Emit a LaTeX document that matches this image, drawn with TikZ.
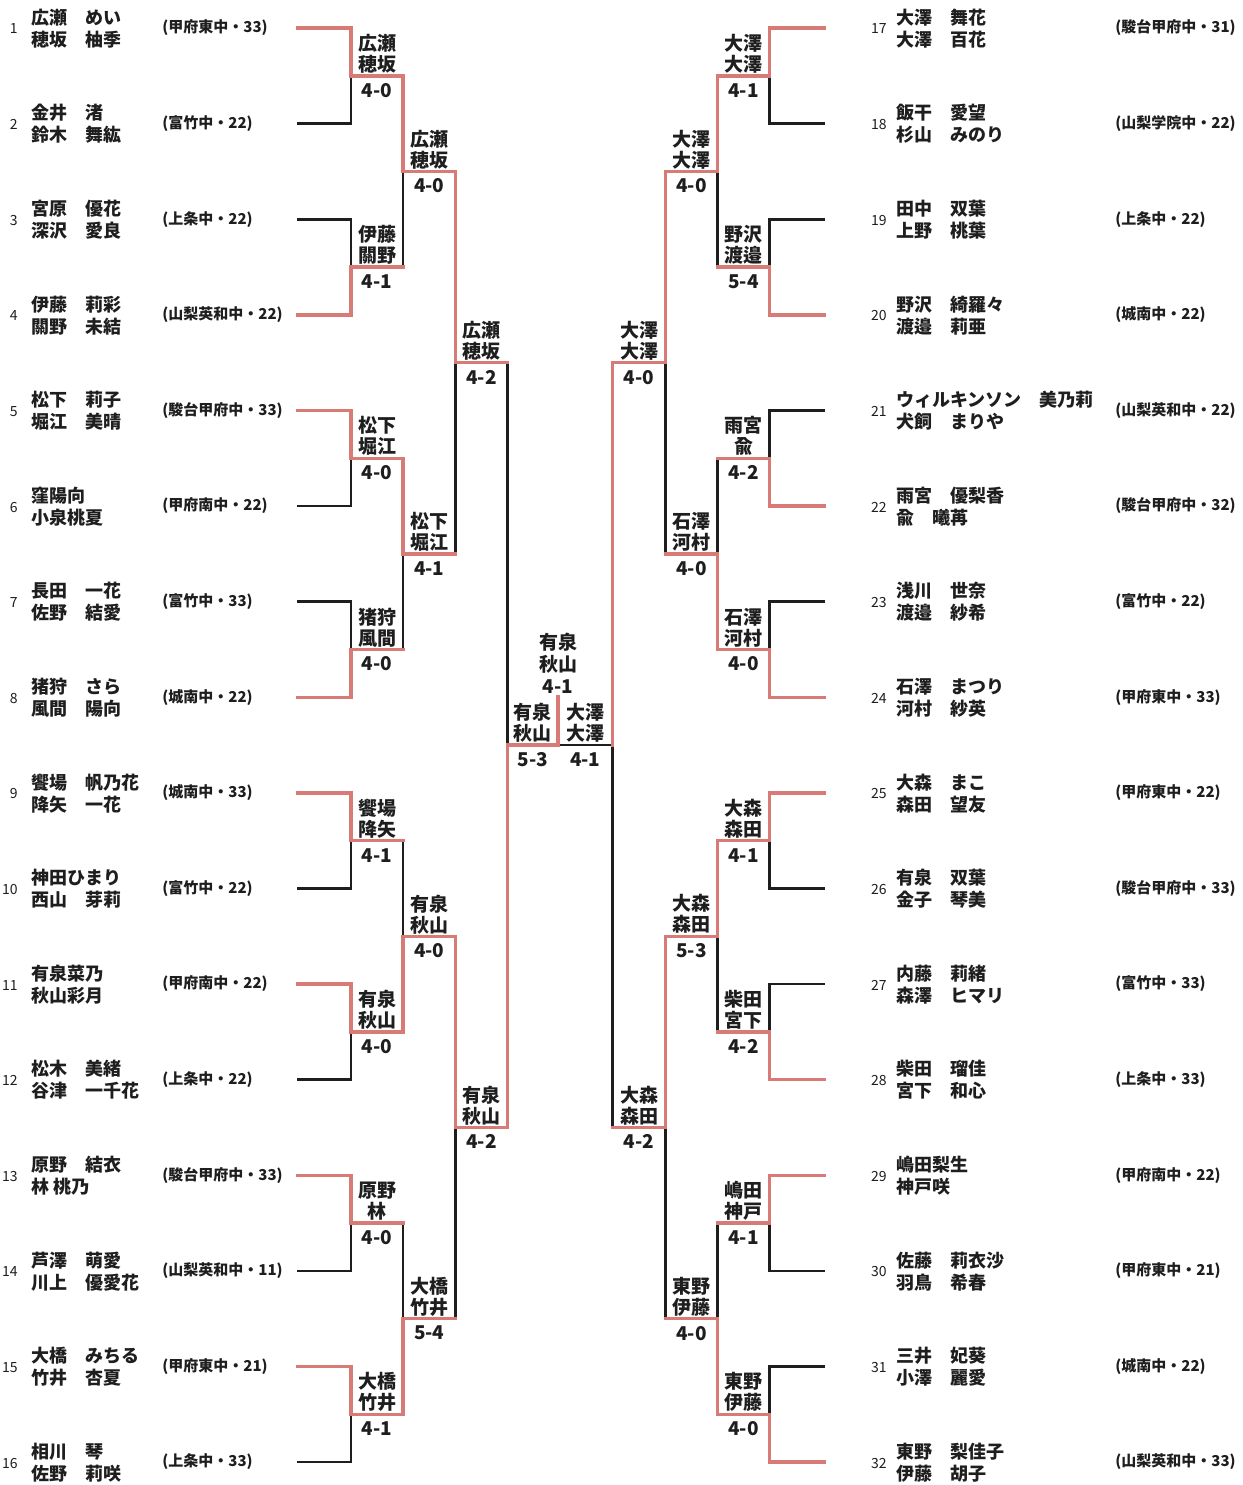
\documentclass[tikz,border=0pt]{standalone}
\usepackage{fontspec}
\setmainfont{Noto Sans CJK JP}
\definecolor{winred}{RGB}{216,122,118}
\definecolor{ink}{RGB}{30,30,30}
\pgfdeclarelayer{bg}
\pgfdeclarelayer{back}
\pgfsetlayers{bg,back,main}
\newcommand\bkseg[3]{\ifnum#1=0\relax\begin{pgfonlayer}{back}\draw[lose] (#2)--(#3);\end{pgfonlayer}\else\draw[win] (#2)--(#3);\fi}
\def\bkoutwin{1}
\newcommand\entL[5]{%
  \pgfmathsetmacro\bky{28+(#1-1)*95.6}%
  \node[num] (nL#1) at (18,\bky+1) {#1};
  \node[nm] (eL#1) at (31,\bky+0.5) {#2\\#3};
  \node[sch] (sL#1) at (162,\bky) {#4};
  \coordinate (aL#1) at (298,\bky);
  \coordinate (bL#1) at (351,\bky);
  \bkseg{#5}{aL#1}{bL#1}}
\newcommand\entR[5]{%
  \pgfmathsetmacro\bky{28+(#1-17)*95.6}%
  \node[num] (nR#1) at (887,\bky+1) {#1};
  \node[nm] (eR#1) at (896,\bky+0.5) {#2\\#3};
  \node[sch] (sR#1) at (1115,\bky) {#4};
  \coordinate (aR#1) at (824,\bky);
  \coordinate (bR#1) at (769.5,\bky);
  \bkseg{#5}{aR#1}{bR#1}}
\newcommand\bkmatch[9]{%
  \pgfmathsetmacro\bkym{(#4+#5)/2}%
  \pgfmathsetmacro\bkxm{(#2+#3)/2}%
  \pgfmathtruncatemacro\bkbw{1-#6}%
  \coordinate (#1t) at (#2,#4);
  \coordinate (#1m) at (#2,\bkym);
  \coordinate (#1b) at (#2,#5);
  \coordinate (#1o) at (#3,\bkym);
  \bkseg{#6}{#1t}{#1m}
  \bkseg{\bkbw}{#1m}{#1b}
  \bkseg{\bkoutwin}{#1m}{#1o}
  \node[lab] (#1l) at (\bkxm,\bkym-22) {#7\\#8};
  \node[score] (#1s) at (\bkxm,\bkym+14.5) {#9};}
\begin{document}
\begin{tikzpicture}[x=0.5pt,y=-0.5pt,
  win/.style={draw=winred,line width=1.7pt,line cap=rect},
  lose/.style={draw=ink,line width=1.3pt,line cap=rect},
  lab/.style={font=\fontsize{9.5}{10.5}\selectfont\bfseries,text=ink,align=center,inner sep=0pt},
  score/.style={font=\fontsize{9.5}{10.5}\selectfont\bfseries,text=ink,inner sep=0pt},
  nm/.style={font=\fontsize{9}{11}\selectfont\bfseries,text=ink,align=left,inner sep=0pt,anchor=west},
  num/.style={font=\fontsize{7}{8}\selectfont,text=ink,inner sep=0pt,anchor=east},
  sch/.style={font=\fontsize{7.5}{9}\selectfont\bfseries,text=ink,inner sep=0pt,anchor=west}]
\begin{pgfonlayer}{bg}
\fill[white] (0,0) rectangle (1243,1485);
\end{pgfonlayer}
\useasboundingbox (0,0) rectangle (1243,1485);
% left entries
\entL{1}{広瀬　めい}{穂坂　柚季}{(甲府東中・33)}{1}
\entL{2}{金井　渚}{鈴木　舞紘}{(富竹中・22)}{0}
\entL{3}{宮原　優花}{深沢　愛良}{(上条中・22)}{0}
\entL{4}{伊藤　莉彩}{關野　未結}{(山梨英和中・22)}{1}
\entL{5}{松下　莉子}{堀江　美晴}{(駿台甲府中・33)}{1}
\entL{6}{窪陽向}{小泉桃夏}{(甲府南中・22)}{0}
\entL{7}{長田　一花}{佐野　結愛}{(富竹中・33)}{0}
\entL{8}{猪狩　さら}{風間　陽向}{(城南中・22)}{1}
\entL{9}{饗場　帆乃花}{降矢　一花}{(城南中・33)}{1}
\entL{10}{神田ひまり}{西山　芽莉}{(富竹中・22)}{0}
\entL{11}{有泉菜乃}{秋山彩月}{(甲府南中・22)}{1}
\entL{12}{松木　美緒}{谷津　一千花}{(上条中・22)}{0}
\entL{13}{原野　結衣}{林 桃乃}{(駿台甲府中・33)}{1}
\entL{14}{芦澤　萌愛}{川上　優愛花}{(山梨英和中・11)}{0}
\entL{15}{大橋　みちる}{竹井　杏夏}{(甲府東中・21)}{1}
\entL{16}{相川　琴}{佐野　莉咲}{(上条中・33)}{0}
% right entries
\entR{17}{大澤　舞花}{大澤　百花}{(駿台甲府中・31)}{1}
\entR{18}{飯干　愛望}{杉山　みのり}{(山梨学院中・22)}{0}
\entR{19}{田中　双葉}{上野　桃葉}{(上条中・22)}{0}
\entR{20}{野沢　綺羅々}{渡邉　莉亜}{(城南中・22)}{1}
\entR{21}{ウィルキンソン　美乃莉}{犬飼　まりや}{(山梨英和中・22)}{0}
\entR{22}{雨宮　優梨香}{兪　曦苒}{(駿台甲府中・32)}{1}
\entR{23}{浅川　世奈}{渡邉　紗希}{(富竹中・22)}{0}
\entR{24}{石澤　まつり}{河村　紗英}{(甲府東中・33)}{1}
\entR{25}{大森　まこ}{森田　望友}{(甲府東中・22)}{1}
\entR{26}{有泉　双葉}{金子　琴美}{(駿台甲府中・33)}{0}
\entR{27}{内藤　莉緒}{森澤　ヒマリ}{(富竹中・33)}{0}
\entR{28}{柴田　瑠佳}{宮下　和心}{(上条中・33)}{1}
\entR{29}{嶋田梨生}{神戸咲}{(甲府南中・22)}{1}
\entR{30}{佐藤　莉衣沙}{羽鳥　希春}{(甲府東中・21)}{0}
\entR{31}{三井　妃葵}{小澤　麗愛}{(城南中・22)}{0}
\entR{32}{東野　梨佳子}{伊藤　胡子}{(山梨英和中・33)}{1}
% left bracket
\bkmatch{LA1}{351}{403}{28}{123.6}{1}{広瀬}{穂坂}{4-0}
\bkmatch{LA2}{351}{403}{219.2}{314.8}{0}{伊藤}{關野}{4-1}
\bkmatch{LA3}{351}{403}{410.4}{506}{1}{松下}{堀江}{4-0}
\bkmatch{LA4}{351}{403}{601.6}{697.2}{0}{猪狩}{風間}{4-0}
\bkmatch{LA5}{351}{403}{792.8}{888.4}{1}{饗場}{降矢}{4-1}
\bkmatch{LA6}{351}{403}{984}{1079.6}{1}{有泉}{秋山}{4-0}
\bkmatch{LA7}{351}{403}{1175.2}{1270.8}{1}{原野}{林}{4-0}
\bkmatch{LA8}{351}{403}{1366.4}{1462}{1}{大橋}{竹井}{4-1}
\bkmatch{LB1}{403}{455.5}{75.8}{267}{1}{広瀬}{穂坂}{4-0}
\bkmatch{LB2}{403}{455.5}{458.2}{649.4}{1}{松下}{堀江}{4-1}
\bkmatch{LB3}{403}{455.5}{840.6}{1031.8}{0}{有泉}{秋山}{4-0}
\bkmatch{LB4}{403}{455.5}{1223}{1414.2}{0}{大橋}{竹井}{5-4}
\bkmatch{LC1}{455.5}{507.5}{171.4}{553.8}{1}{広瀬}{穂坂}{4-2}
\bkmatch{LC2}{455.5}{507.5}{936.2}{1318.6}{1}{有泉}{秋山}{4-2}
\bkmatch{LD}{507.5}{558}{362.6}{1127.4}{0}{有泉}{秋山}{5-3}
% right bracket
\bkmatch{RA1}{769.5}{717.5}{28}{123.6}{1}{大澤}{大澤}{4-1}
\bkmatch{RA2}{769.5}{717.5}{219.2}{314.8}{0}{野沢}{渡邉}{5-4}
\bkmatch{RA3}{769.5}{717.5}{410.4}{506}{0}{雨宮}{兪}{4-2}
\bkmatch{RA4}{769.5}{717.5}{601.6}{697.2}{0}{石澤}{河村}{4-0}
\bkmatch{RA5}{769.5}{717.5}{792.8}{888.4}{1}{大森}{森田}{4-1}
\bkmatch{RA6}{769.5}{717.5}{984}{1079.6}{0}{柴田}{宮下}{4-2}
\bkmatch{RA7}{769.5}{717.5}{1175.2}{1270.8}{1}{嶋田}{神戸}{4-1}
\bkmatch{RA8}{769.5}{717.5}{1366.4}{1462}{0}{東野}{伊藤}{4-0}
\bkmatch{RB1}{717.5}{665.5}{75.8}{267}{1}{大澤}{大澤}{4-0}
\bkmatch{RB2}{717.5}{665.5}{458.2}{649.4}{0}{石澤}{河村}{4-0}
\bkmatch{RB3}{717.5}{665.5}{840.6}{1031.8}{1}{大森}{森田}{5-3}
\bkmatch{RB4}{717.5}{665.5}{1223}{1414.2}{0}{東野}{伊藤}{4-0}
\bkmatch{RC1}{665.5}{612.5}{171.4}{553.8}{1}{大澤}{大澤}{4-0}
\bkmatch{RC2}{665.5}{612.5}{936.2}{1318.6}{1}{大森}{森田}{4-2}
\def\bkoutwin{0}
\bkmatch{RD}{612.5}{558}{362.6}{1127.4}{1}{大澤}{大澤}{4-1}
\def\bkoutwin{1}
% final
\coordinate (Ftop) at (558,697);
\draw[win] (LDo) -- (Ftop);
\node[lab,font=\fontsize{9.5}{11}\selectfont\bfseries] (final) at (558,663) {有泉\\秋山\\4-1};
\end{tikzpicture}
\end{document}
